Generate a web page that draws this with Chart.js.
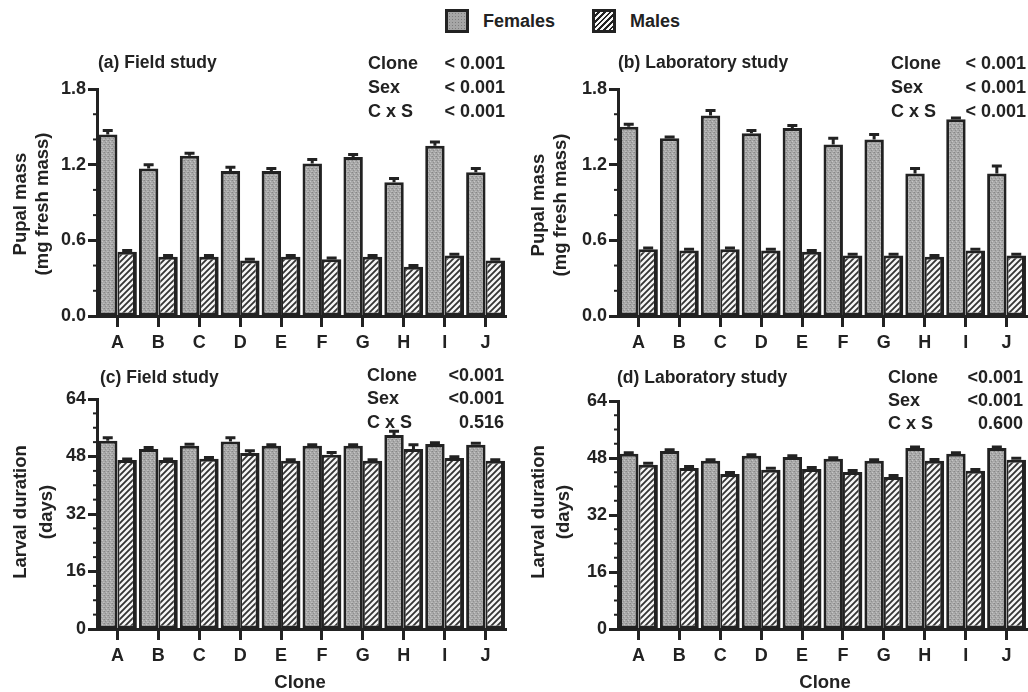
<!DOCTYPE html>
<html>
<head>
<meta charset="utf-8">
<script src="https://cdn.jsdelivr.net/npm/chart.js"></script>
<style>
  body { margin: 0; background: #fff; }
  #page { position: relative; width: 1028px; height: 692px; overflow: hidden;
          font-family: "Liberation Sans", Arial, sans-serif; font-weight: bold; color: #222; }
  canvas { position: absolute; }
  .t { position: absolute; white-space: nowrap; line-height: 1; transform: translateY(-50%); }
  .r { transform: translate(-100%, -50%); }
  .c { transform: translate(-50%, -50%); }
  .rot { transform: translate(-50%, -50%) rotate(-90deg); text-align: center; }
  .icon { position: absolute; width: 18px; height: 18px; border: 3px solid #222; }
</style>
</head>
<body>
<div id="page">
  <div class="icon" style="left:445px;top:9px;background:#a6a6a6 radial-gradient(#7d7d7d 0.8px, transparent 1px) 0 0/3px 3px;"></div>
  <div class="t" style="left:483px;top:21px;font-size:18px;">Females</div>
  <div class="icon" style="left:592px;top:9px;background:repeating-linear-gradient(135deg,#f6f6f6 0 2px,#222 2px 4px);"></div>
  <div class="t" style="left:630px;top:21px;font-size:18px;">Males</div>

  <canvas id="ca" width="514" height="320" style="left:0;top:40px"></canvas>
  <canvas id="cb" width="514" height="320" style="left:514px;top:40px"></canvas>
  <canvas id="cc" width="514" height="337" style="left:0;top:355px"></canvas>
  <canvas id="cd" width="514" height="337" style="left:514px;top:355px"></canvas>
  <div id="texts"></div>
</div>
<script>
const clones = ["A", "B", "C", "D", "E", "F", "G", "H", "I", "J"];
const seriesNames = ["Females", "Males"];

// pupal mass (mg fresh mass)
const massFieldF = [1.44, 1.17, 1.27, 1.15, 1.15, 1.21, 1.26, 1.06, 1.35, 1.14];
const massFieldM = [0.51, 0.47, 0.47, 0.44, 0.47, 0.45, 0.47, 0.39, 0.48, 0.44];
const massFieldFErr = [0.03, 0.03, 0.02, 0.03, 0.02, 0.03, 0.02, 0.03, 0.03, 0.03];
const massFieldMErr = [0.01, 0.01, 0.01, 0.01, 0.01, 0.01, 0.01, 0.01, 0.01, 0.01];
const massLabF = [1.50, 1.41, 1.59, 1.45, 1.49, 1.36, 1.40, 1.13, 1.56, 1.13];
const massLabM = [0.53, 0.52, 0.53, 0.52, 0.51, 0.48, 0.48, 0.47, 0.52, 0.48];
const massLabFErr = [0.02, 0.01, 0.04, 0.02, 0.02, 0.05, 0.04, 0.04, 0.01, 0.06];
const massLabMErr = [0.01, 0.01, 0.01, 0.01, 0.01, 0.01, 0.01, 0.01, 0.01, 0.01];

// larval duration (days)
const durFieldF = [52.4, 50.1, 51.0, 52.2, 51.0, 51.0, 51.0, 54.0, 51.5, 51.3];
const durFieldM = [47.0, 47.0, 47.4, 49.0, 46.8, 48.5, 46.8, 50.1, 47.6, 46.8];
const durFieldFErr = [0.8, 0.4, 0.4, 1.0, 0.3, 0.3, 0.3, 1.0, 0.3, 0.4];
const durFieldMErr = [0.3, 0.3, 0.3, 0.6, 0.3, 0.6, 0.3, 1.2, 0.3, 0.3];
const durLabF = [49.2, 50.0, 47.2, 48.6, 48.3, 47.8, 47.2, 50.8, 49.2, 50.8];
const durLabM = [46.1, 45.2, 43.5, 44.7, 44.9, 44.1, 42.7, 47.2, 44.4, 47.5];
const durLabFErr = [0.3, 0.3, 0.3, 0.3, 0.3, 0.3, 0.3, 0.3, 0.3, 0.3];
const durLabMErr = [0.4, 0.4, 0.4, 0.4, 0.4, 0.4, 0.4, 0.4, 0.4, 0.4];

const massTicks = [0, 0.6, 1.2, 1.8];
const durTicks = [0, 16, 32, 48, 64];

const statNames = ["Clone", "Sex", "C x S"];
const statsA = ["< 0.001", "< 0.001", "< 0.001"];
const statsB = ["< 0.001", "< 0.001", "< 0.001"];
const statsC = ["<0.001", "<0.001", "0.516"];
const statsD = ["<0.001", "<0.001", "0.600"];

const INK = "#222";
const FONT = "'Liberation Sans', Arial, sans-serif";

// fill patterns
function stipple() {
  const c = document.createElement("canvas");
  c.width = 4; c.height = 4;
  const g = c.getContext("2d");
  g.fillStyle = "#a8a8a8"; g.fillRect(0, 0, 4, 4);
  const dots = [[0, 0, "#868686"], [2, 1, "#c6c6c6"], [1, 2, "#8e8e8e"], [3, 3, "#bebebe"], [3, 0, "#999"], [0, 3, "#b5b5b5"]];
  dots.forEach(([x, y, col]) => { g.fillStyle = col; g.fillRect(x, y, 1, 1); });
  return g.createPattern(c, "repeat");
}
function hatch() {
  const s = 6;
  const c = document.createElement("canvas");
  c.width = s; c.height = s;
  const g = c.getContext("2d");
  g.fillStyle = "#f6f6f6"; g.fillRect(0, 0, s, s);
  g.strokeStyle = "#333"; g.lineWidth = 1.8;
  g.beginPath();
  g.moveTo(0, s); g.lineTo(s, 0);
  g.moveTo(-1, 1); g.lineTo(1, -1);
  g.moveTo(s - 1, s + 1); g.lineTo(s + 1, s - 1);
  g.stroke();
  return g.createPattern(c, "repeat");
}

const errorBars = {
  id: "errorBars",
  afterDatasetsDraw(chart) {
    const ctx = chart.ctx, y = chart.scales.y;
    ctx.save();
    ctx.strokeStyle = INK;
    ctx.lineWidth = 3;
    chart.data.datasets.forEach((ds, di) => {
      chart.getDatasetMeta(di).data.forEach((bar, i) => {
        const top = y.getPixelForValue(ds.data[i] + ds.errors[i]);
        ctx.beginPath();
        ctx.moveTo(bar.x, bar.y);
        ctx.lineTo(bar.x, top);
        ctx.moveTo(bar.x - 5, top);
        ctx.lineTo(bar.x + 5, top);
        ctx.stroke();
      });
    });
    ctx.restore();
  }
};

const minorTicks = {
  id: "minorTicks",
  afterDraw(chart, args, opts) {
    const ctx = chart.ctx, y = chart.scales.y, x0 = chart.chartArea.left;
    ctx.save();
    ctx.strokeStyle = INK;
    ctx.lineWidth = 2;
    const n = Math.round((y.max - y.min) / opts.step);
    for (let k = 0; k <= n; k++) {
      const py = y.getPixelForValue(y.min + k * opts.step);
      ctx.beginPath();
      ctx.moveTo(x0, py);
      ctx.lineTo(x0 - 4, py);
      ctx.stroke();
    }
    ctx.restore();
  }
};

function makePanel(id, female, male, femaleErr, maleErr, ticks, fmt, minorStep, area) {
  const cv = document.getElementById(id);
  new Chart(cv, {
    type: "bar",
    data: {
      labels: clones,
      datasets: [
        { label: seriesNames[0], data: female, errors: femaleErr, backgroundColor: stipple(),
          borderColor: INK, borderWidth: 3, borderSkipped: false },
        { label: seriesNames[1], data: male, errors: maleErr, backgroundColor: hatch(),
          borderColor: INK, borderWidth: { top: 3, left: 2, bottom: 3, right: 4 }, borderSkipped: false }
      ]
    },
    options: {
      responsive: false,
      animation: false,
      devicePixelRatio: 1,
      layout: { padding: { left: 0, top: area.top, right: cv.width - area.right, bottom: 0 } },
      datasets: { bar: { categoryPercentage: 0.95, barPercentage: 1.0 } },
      plugins: { legend: { display: false }, tooltip: { enabled: false }, minorTicks: { step: minorStep } },
      scales: {
        x: {
          offset: true,
          afterFit: s => { s.height = cv.height - area.bottom; },
          grid: { offset: false, drawOnChartArea: false, tickLength: 11, tickWidth: 3, tickColor: INK },
          border: { color: INK, width: 3 },
          ticks: { color: INK, padding: 5, font: { family: FONT, size: 18, weight: "bold" } }
        },
        y: {
          min: ticks[0],
          max: ticks[ticks.length - 1],
          afterFit: s => { s.width = area.left; },
          afterBuildTicks: s => { s.ticks = ticks.map(v => ({ value: v })); },
          grid: { drawOnChartArea: false, tickLength: 9, tickWidth: 3, tickColor: INK },
          border: { color: INK, width: 3 },
          ticks: { color: INK, padding: 2, callback: fmt, font: { family: FONT, size: 18, weight: "bold" } }
        }
      }
    },
    plugins: [errorBars, minorTicks]
  });
}

const massFmt = v => Number(v).toFixed(1);
const durFmt = v => String(v);

// chart areas in canvas pixels
makePanel("ca", massFieldF, massFieldM, massFieldFErr, massFieldMErr, massTicks, massFmt, 0.2,
  { left: 97, right: 506, top: 49, bottom: 276 });
makePanel("cb", massLabF, massLabM, massLabFErr, massLabMErr, massTicks, massFmt, 0.2,
  { left: 104, right: 513, top: 49, bottom: 276 });
makePanel("cc", durFieldF, durFieldM, durFieldFErr, durFieldMErr, durTicks, durFmt, 4,
  { left: 97, right: 506, top: 44, bottom: 274 });
makePanel("cd", durLabF, durLabM, durLabFErr, durLabMErr, durTicks, durFmt, 4,
  { left: 104, right: 513, top: 46, bottom: 274 });

// panel texts
const texts = document.getElementById("texts");
function addText(str, x, y, size, cls) {
  const d = document.createElement("div");
  d.className = "t" + (cls ? " " + cls : "");
  d.style.left = x + "px";
  d.style.top = y + "px";
  d.style.fontSize = size + "px";
  d.innerHTML = str;
  texts.appendChild(d);
}
const panels = [
  { title: "(a) Field study", tx: 98, ty: 63, sx: 368, ex: 505, rows: [63, 87, 111], stats: statsA,
    yt: ["Pupal mass", "(mg fresh mass)"], ytx: [20, 42], yty: 204 },
  { title: "(b) Laboratory study", tx: 618, ty: 63, sx: 891, ex: 1026, rows: [63, 87, 111], stats: statsB,
    yt: ["Pupal mass", "(mg fresh mass)"], ytx: [538, 560], yty: 205 },
  { title: "(c) Field study", tx: 100, ty: 378, sx: 367, ex: 504, rows: [375, 398, 422], stats: statsC,
    yt: ["Larval duration", "(days)"], ytx: [20, 46], yty: 512, xt: 300 },
  { title: "(d) Laboratory study", tx: 617, ty: 378, sx: 888, ex: 1023, rows: [377, 400, 423], stats: statsD,
    yt: ["Larval duration", "(days)"], ytx: [538, 563], yty: 512, xt: 825 }
];
panels.forEach(p => {
  addText(p.title, p.tx, p.ty, 17.5);
  statNames.forEach((n, i) => {
    addText(n, p.sx, p.rows[i], 18);
    addText(p.stats[i], p.ex, p.rows[i], 18, "r");
  });
  p.yt.forEach((s, i) => addText(s, p.ytx[i], p.yty, 18.5, "rot"));
  if (p.xt) addText("Clone", p.xt, 682, 18.5, "c");
});
</script>
</body>
</html>
